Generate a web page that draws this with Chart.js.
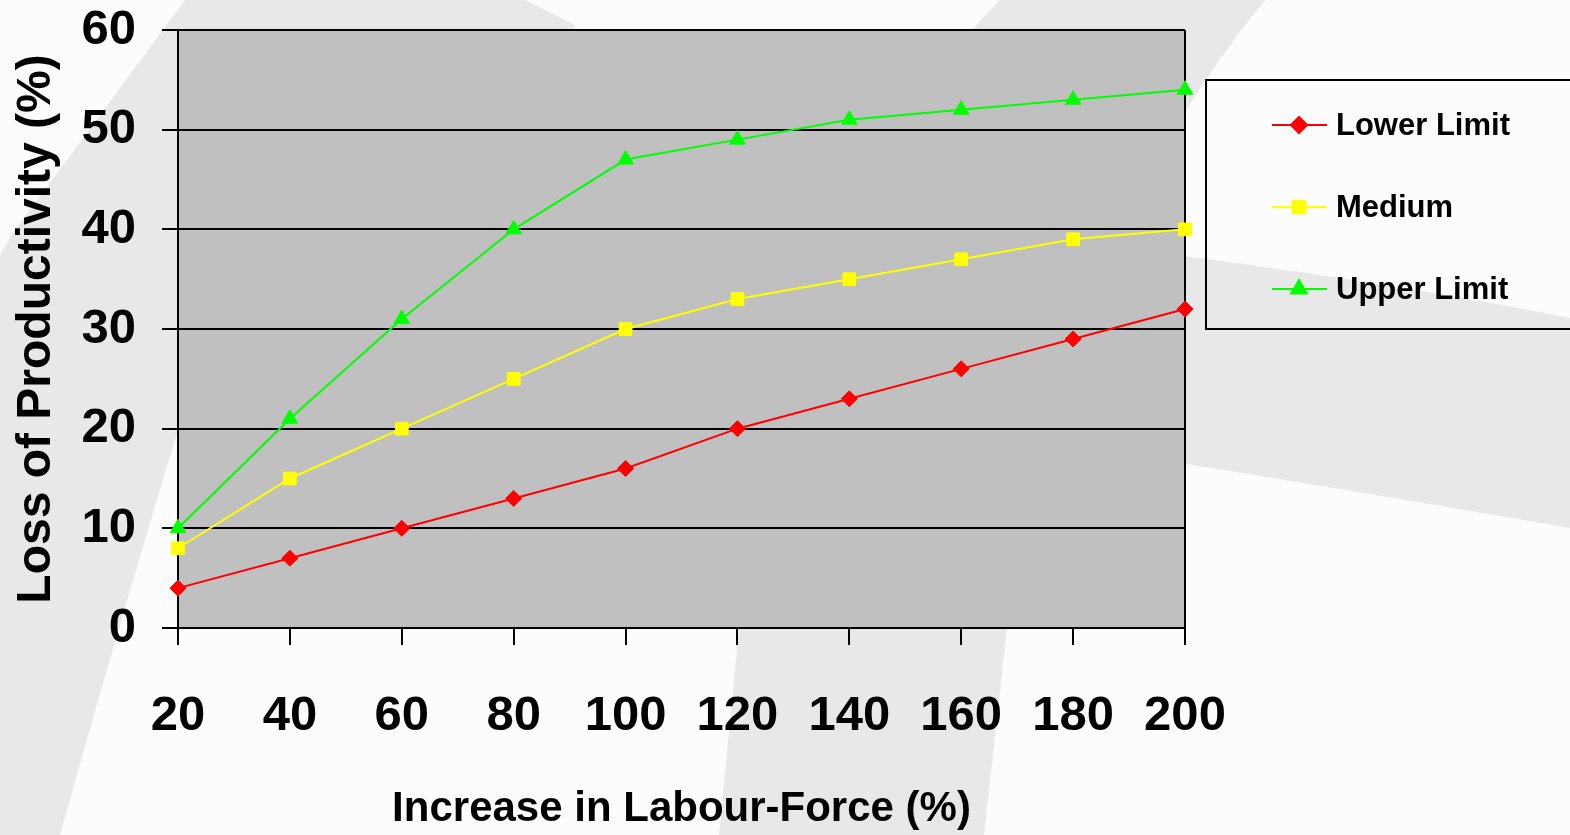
<!DOCTYPE html>
<html>
<head>
<meta charset="utf-8">
<script src="https://cdn.jsdelivr.net/npm/chart.js@4.4.1/dist/chart.umd.min.js"></script>
<style>
  html, body { margin: 0; padding: 0; background: #fcfcfc; }
  #wrap { width: 1570px; height: 835px; }
</style>
</head>
<body>
<div id="wrap"><canvas id="chart" width="1570" height="835"></canvas></div>
<script>
// values
const labourIncrease = ["20", "40", "60", "80", "100", "120", "140", "160", "180", "200"];
const lowerLimit = [4, 7, 10, 13, 16, 20, 23, 26, 29, 32];
const medium = [8, 15, 20, 25, 30, 33, 35, 37, 39, 40];
const upperLimit = [10, 21, 31, 40, 47, 49, 51, 52, 53, 54];
const yMin = 0, yMax = 60, yStep = 10;

const font = "'Liberation Sans', Arial, sans-serif";

// light swooshes of the slide template + the grey plot area
const backdrop = {
  id: "backdrop",
  beforeDraw(chart) {
    const { ctx, chartArea } = chart;
    ctx.save();
    ctx.fillStyle = "#fcfcfc";
    ctx.fillRect(0, 0, chart.width, chart.height);
    ctx.fillStyle = "#e8e8e8";
    // left band
    ctx.beginPath();
    ctx.moveTo(185, 0);
    ctx.lineTo(525, 0);
    ctx.lineTo(575, 25);
    ctx.lineTo(560, 80);
    ctx.quadraticCurveTo(300, 250, 178, 430);
    ctx.quadraticCurveTo(120, 620, 60, 835);
    ctx.lineTo(0, 835);
    ctx.lineTo(0, 255);
    ctx.lineTo(13, 233);
    ctx.closePath();
    ctx.fill();
    // middle band
    ctx.beginPath();
    ctx.moveTo(1000, 0);
    ctx.lineTo(1265, 0);
    ctx.quadraticCurveTo(1060, 250, 1007, 628);
    ctx.lineTo(984, 835);
    ctx.lineTo(719, 835);
    ctx.lineTo(739, 628);
    ctx.quadraticCurveTo(800, 200, 1000, 0);
    ctx.fill();
    // right band
    ctx.beginPath();
    ctx.moveTo(1100, 245);
    ctx.quadraticCurveTo(1380, 280, 1570, 318);
    ctx.lineTo(1570, 528);
    ctx.quadraticCurveTo(1380, 495, 1100, 450);
    ctx.closePath();
    ctx.fill();
    ctx.fillStyle = "#c0c0c0";
    ctx.fillRect(chartArea.left, chartArea.top, chartArea.right - chartArea.left, chartArea.bottom - chartArea.top);
    ctx.restore();
  },
  beforeDatasetsDraw(chart) {
    const { ctx, chartArea } = chart;
    ctx.save();
    ctx.strokeStyle = "#000";
    ctx.lineWidth = 2;
    ctx.beginPath();
    ctx.moveTo(chartArea.right, chartArea.top);
    ctx.lineTo(chartArea.right, chartArea.bottom);
    ctx.stroke();
    ctx.restore();
  }
};

// boxed legend with line + marker, like the original
const boxLegend = {
  id: "boxLegend",
  afterDraw(chart) {
    const { ctx, chartArea } = chart;
    const left = chartArea.right + 21;
    const top = 80, bottom = 329;
    ctx.save();
    ctx.strokeStyle = "#000";
    ctx.lineWidth = 2;
    ctx.strokeRect(left, top, chart.width - left + 10, bottom - top);
    chart.data.datasets.forEach((ds, i) => {
      const y = top + 45 + i * 82;
      ctx.strokeStyle = ds.borderColor;
      ctx.lineWidth = 2;
      ctx.beginPath();
      ctx.moveTo(left + 66, y);
      ctx.lineTo(left + 121, y);
      ctx.stroke();
      ctx.fillStyle = ds.backgroundColor;
      Chart.helpers.drawPoint(ctx, {
        pointStyle: ds.pointStyle,
        radius: ds.pointRadius,
        rotation: 0,
        borderWidth: 1
      }, left + 93, y);
      ctx.fillStyle = "#000";
      ctx.font = "bold 31px " + font;
      ctx.textBaseline = "middle";
      ctx.textAlign = "left";
      ctx.fillText(ds.label, left + 130, y + 1);
    });
    ctx.restore();
  }
};

const ctx = document.getElementById("chart").getContext("2d");
new Chart(ctx, {
  type: "line",
  data: {
    labels: labourIncrease,
    datasets: [
      {
        label: "Lower Limit",
        data: lowerLimit,
        borderColor: "#ff0000",
        backgroundColor: "#ff0000",
        pointStyle: "rectRot",
        pointRadius: 8
      },
      {
        label: "Medium",
        data: medium,
        borderColor: "#ffff00",
        backgroundColor: "#ffff00",
        pointStyle: "rect",
        pointRadius: 9
      },
      {
        label: "Upper Limit",
        data: upperLimit,
        borderColor: "#00ff00",
        backgroundColor: "#00ff00",
        pointStyle: "triangle",
        pointRadius: 9
      }
    ].map((d) => ({ ...d, borderWidth: 2, pointBorderWidth: 1, fill: false, tension: 0, pointHoverRadius: d.pointRadius }))
  },
  options: {
    responsive: false,
    animation: false,
    events: [],
    layout: { padding: { top: 30, right: 385, bottom: 0, left: 0 } },
    plugins: {
      legend: { display: false },
      tooltip: { enabled: false }
    },
    scales: {
      x: {
        afterFit: (scale) => { scale.height = 207; },
        grid: { drawOnChartArea: false, color: "#000", lineWidth: 2, tickLength: 17 },
        border: { color: "#000", width: 2 },
        ticks: {
          color: "#000",
          padding: 42,
          maxRotation: 0,
          autoSkip: false,
          font: { family: font, size: 49, weight: "bold" }
        },
        title: {
          display: true,
          text: "Increase in Labour-Force (%)",
          color: "#000",
          padding: { top: 0, bottom: 0 },
          font: { family: font, size: 42, weight: "bold" }
        }
      },
      y: {
        min: yMin,
        max: yMax,
        afterFit: (scale) => {
          scale.width = 178;
          scale.paddingTop = 0;
          scale.paddingBottom = 0;
        },
        grid: { color: "#000", lineWidth: 2, tickLength: 16 },
        border: { color: "#000", width: 2 },
        ticks: {
          stepSize: yStep,
          color: "#000",
          padding: 26,
          font: { family: font, size: 49, weight: "bold" }
        },
        title: {
          display: true,
          text: "Loss of Productivity (%)",
          color: "#000",
          padding: { top: 8, bottom: 0 },
          font: { family: font, size: 48, weight: "bold" }
        }
      }
    }
  },
  plugins: [backdrop, boxLegend]
});
</script>
</body>
</html>
